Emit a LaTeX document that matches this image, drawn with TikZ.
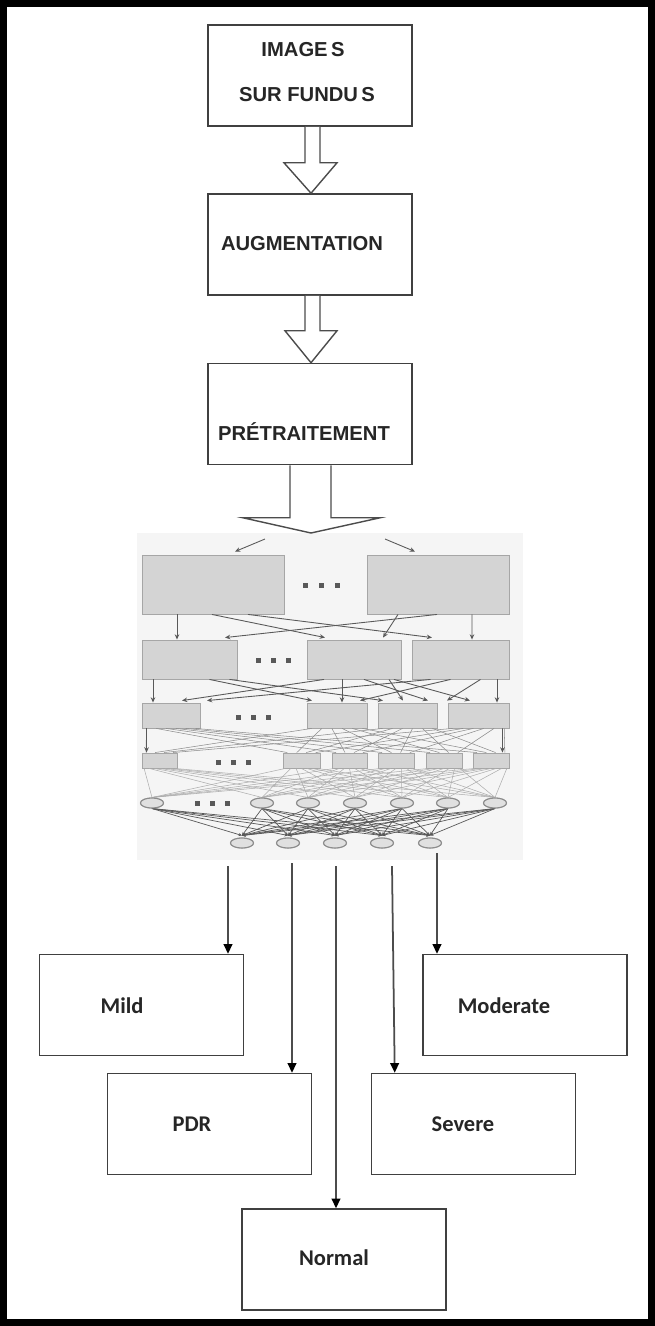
\documentclass[tikz,border=0pt]{standalone}
\usepackage{fontspec}
\setmainfont{Liberation Sans}
\newfontfamily\labelfont{Carlito}
\usetikzlibrary{arrows.meta,calc,shapes.geometric}

\begin{document}
\begin{tikzpicture}[x=0.02cm,y=-0.02cm,
  mainbox/.style={draw=black!75, line width=0.9pt, fill=white, minimum width=4.08cm, minimum height=2.02cm, inner sep=0pt},
  capstext/.style={font=\fontsize{11.5}{13}\selectfont\bfseries, text=black!85, inner sep=0pt},
  classtext/.style={font=\labelfont\fontsize{12.8}{14}\selectfont\bfseries, text=black!85, inner sep=0pt},
  hollow/.style={draw=black!70, line width=0.8pt, fill=white, line join=miter},
  nbox/.style 2 args={draw=black!35, fill=black!17, line width=0.5pt, minimum width=#1*0.02cm, minimum height=#2*0.02cm, inner sep=0pt},
  neuron/.style={ellipse, draw=black!45, fill=black!12, line width=0.6pt, minimum width=0.46cm, minimum height=0.2cm, inner sep=0pt},
  nnarrow/.style={draw=black!65, line width=0.5pt, -{Stealth[length=3pt,width=2.6pt]}},
  nnline/.style={draw=black!45, line width=0.3pt},
  nnfaint/.style={draw=black!32, line width=0.3pt},
  nndark/.style={draw=black!65, line width=0.4pt, -{Stealth[length=2pt,width=1.8pt]}},
  outarrow/.style={draw=black!70, line width=1pt, -{Triangle[length=5.5pt,width=5pt,color=black]}},
  dotmark/.style={fill=black!65}
]
\useasboundingbox (0,0) rectangle (655,1326);
\fill[white] (0,0) rectangle (655,1326);

% ---------- processing chain ----------
\node[mainbox] (img) at (310,75.5) {};
\node[capstext] (imgA) at (303,50) {IMAGE\,S};
\node[capstext] (imgB) at (307,95) {SUR FUNDU\,S};

\node[mainbox] (aug) at (310,244.5) {};
\node[capstext] (augt) at (302,244) {AUGMENTATION};

\node[mainbox] (pre) at (310,414) {};
\node[capstext] (pret) at (304,432) {PRÉTRAITEMENT};

% hollow block arrows
\draw[hollow] ($(img.south)+(-5,0)$) -- ($(img.south)+(-5,36)$) -- ($(img.south)+(-26,36)$)
  -- ($(aug.north)+(1,0)$) -- ($(img.south)+(27,36)$) -- ($(img.south)+(10,36)$) -- ($(img.south)+(10,0)$);
\draw[hollow] ($(aug.south)+(-5,0)$) -- ($(aug.south)+(-5,35)$) -- ($(aug.south)+(-25,35)$)
  -- ($(pre.north)+(1,0)$) -- ($(aug.south)+(27,35)$) -- ($(aug.south)+(10,35)$) -- ($(aug.south)+(10,0)$);

% ---------- network panel ----------
\fill[black!4] (137,533) rectangle (523,860);

\coordinate (split) at (311,533);
\draw[hollow] ($(pre.south)+(-20,0)$) -- ($(pre.south)+(-20,52.5)$) -- ($(pre.south)+(-67,52.5)$)
  -- (split) -- ($(pre.south)+(70,52.5)$) -- ($(pre.south)+(21,52.5)$) -- ($(pre.south)+(21,0)$);

% layer 1
\node[nbox={142}{59}] (L1a) at (213,584.5) {};
\node[nbox={142}{59}] (L1b) at (438,584.5) {};
\coordinate (d1) at (321,585);
% layer 2
\node[nbox={95}{39}] (L2a) at (189.5,659.5) {};
\node[nbox={94}{39}] (L2b) at (354,659.5) {};
\node[nbox={97}{39}] (L2c) at (460.5,659.5) {};
\coordinate (d2) at (273,660);
% layer 3
\node[nbox={58}{25}] (L3a) at (171,715.5) {};
\node[nbox={60}{25}] (L3b) at (337,715.5) {};
\node[nbox={59}{25}] (L3c) at (407.5,715.5) {};
\node[nbox={61}{25}] (L3d) at (478.5,715.5) {};
\coordinate (d3) at (253,717);
% layer 4
\node[nbox={35}{15}] (L4a) at (159.5,760.5) {};
\node[nbox={37}{15}] (L4b) at (301.5,760.5) {};
\node[nbox={35}{15}] (L4c) at (349.5,760.5) {};
\node[nbox={36}{15}] (L4d) at (396,760.5) {};
\node[nbox={36}{15}] (L4e) at (444,760.5) {};
\node[nbox={36}{15}] (L4f) at (491,760.5) {};
\coordinate (d4) at (233,762);
% layer 5
\foreach \n/\x in {a/152,b/262,c/308,d/355,e/402,f/448,g/495}
  \node[neuron] (L5\n) at (\x,803) {};
\coordinate (d5) at (212,803);
% layer 6
\foreach \n/\x in {a/242,b/288,c/335,d/382,e/430}
  \node[neuron] (L6\n) at (\x,843) {};

% ellipsis marks
\foreach \c in {d2,d3,d4,d5}
  \foreach \d in {-15,0,15}
    \fill[dotmark] ($(\c)+(\d-2,-2)$) rectangle ++(4.5,4.5);
\foreach \d in {-16,0,16}
  \fill[dotmark] ($(d1)+(\d-2.5,-2.5)$) rectangle ++(5,5);

% split into the first layer
\coordinate (s1) at (265,539);
\coordinate (s2) at (385,539);
\draw[nnarrow] (s1) -- ($(L1a.north)+(22,-3)$);
\draw[nnarrow] (s2) -- ($(L1b.north)+(-23,-3)$);

% layer 1 -> layer 2
\draw[nnarrow] ($(L1a.south)+(-36,0)$) -- ($(L2a.north)+(-12.5,0)$);
\draw[nnarrow] ($(L1b.south)+(34,0)$) -- ($(L2c.north)+(11.5,0)$);
\draw[nnarrow] ($(L1a.south)+(-1,0)$) -- ($(L2b.north)+(-29,-2)$);
\draw[nnarrow] ($(L1a.south)+(35,0)$) -- ($(L2c.north)+(-28.5,-2)$);
\draw[nnarrow] ($(L1b.south)+(-1,0)$) -- ($(L2a.north)+(35.5,-2)$);
\draw[nnarrow] ($(L1b.south)+(-40,0)$) -- ($(L2b.north)+(29,-2)$);

% layer 2 -> layer 3
\draw[nnarrow] ($(L2a.south)+(-36.5,0)$) -- ($(L3a.north)+(-18,0)$);
\draw[nnarrow] ($(L2b.south)+(-12,0)$) -- ($(L3b.north)+(5,0)$);
\draw[nnarrow] ($(L2c.south)+(36.5,0)$) -- ($(L3d.north)+(18.5,0)$);
\draw[nnarrow] ($(L2b.south)+(-30,0)$) -- ($(L3a.north)+(11,-2)$);
\draw[nnarrow] ($(L2c.south)+(-30,0)$) -- ($(L3a.north)+(36,-2)$);
\draw[nnarrow] ($(L2a.south)+(20,0)$) -- ($(L3b.north)+(-25,-2)$);
\draw[nnarrow] ($(L2c.south)+(-10,0)$) -- ($(L3b.north)+(23,-2)$);
\draw[nnarrow] ($(L2a.south)+(40,0)$) -- ($(L3c.north)+(-24.5,-2)$);
\draw[nnarrow] ($(L2b.south)+(10,0)$) -- ($(L3c.north)+(20.5,-2)$);
\draw[nnarrow] ($(L2b.south)+(35,0)$) -- ($(L3c.north)+(-4.5,-2)$);
\draw[nnarrow] ($(L2c.south)+(20,0)$) -- ($(L3d.north)+(-31.5,-2)$);
\draw[nnarrow] ($(L2b.south)+(40,0)$) -- ($(L3d.north)+(-8.5,-2)$);

% layer 3 -> layer 4 (dense)
\foreach \s [count=\i] in {L3a,L3b,L3c,L3d}
  \foreach \d [count=\j] in {L4a,L4b,L4c,L4d,L4e,L4f}{
    \pgfmathsetmacro\ta{(\j-0.5)/6}
    \pgfmathsetmacro\tb{(\i-0.5)/4}
    \draw[nnline] ($(\s.south west)!\ta!(\s.south east)$) -- ($(\d.north west)!\tb!(\d.north east)$);
  }
\draw[nnarrow] ($(L3a.south west)+(5,0)$) -- ($(L4a.north west)+(5,0)$);
\draw[nnarrow] ($(L3d.south east)+(-7,0)$) -- ($(L4f.north east)+(-7,0)$);

% layer 4 -> layer 5 (fully connected)
\foreach \s in {L4a,L4b,L4c,L4d,L4e,L4f}
  \foreach \d [count=\j] in {L5a,L5b,L5c,L5d,L5e,L5f,L5g}{
    \pgfmathsetmacro\ta{(\j-0.5)/7}
    \draw[nnfaint] ($(\s.south west)!\ta!(\s.south east)$) -- (\d.north);
  }

% layer 5 -> layer 6 (fully connected)
\foreach \s in {L5a,L5b,L5c,L5d,L5e,L5f,L5g}
  \foreach \d in {L6a,L6b,L6c,L6d,L6e}
    \draw[nndark] (\s.south) -- ($(\d.north)+(0,-2)$);

% neurons redrawn above the wiring
\foreach \n in {a,b,c,d,e,f,g}
  \node[neuron] at (L5\n) {};
\foreach \n in {a,b,c,d,e}
  \node[neuron] at (L6\n) {};

% ---------- classes ----------
\node[mainbox] (mild) at (141.5,1005) {};
\node[classtext] (mildt) at (122,1006) {Mild};
\node[mainbox] (mod) at (525,1005) {};
\node[classtext] (modt) at (504,1006) {Moderate};
\node[mainbox] (pdr) at (209.5,1124) {};
\node[classtext] (pdrt) at (192,1124) {PDR};
\node[mainbox] (sev) at (473.5,1124) {};
\node[classtext] (sevt) at (463,1124) {Severe};
\node[mainbox] (norm) at (344,1259.5) {};
\node[classtext] (normt) at (334,1258) {Normal};

\coordinate (o1) at (228,866);
\coordinate (o2) at (292,863);
\coordinate (o3) at (336,866);
\coordinate (o4) at (392,866);
\coordinate (o5) at (437,853);
\draw[outarrow] (o1) -- (o1 |- mild.north);
\draw[outarrow] (o2) -- (o2 |- pdr.north);
\draw[outarrow] (o3) -- (o3 |- norm.north);
\draw[outarrow] (o4) -- ($(sev.north west)+(24,0)$);
\draw[outarrow] (o5) -- (o5 |- mod.north);

% ---------- frame ----------
\draw[line width=3.97pt] (3.5,3.5) rectangle (651.5,1322.5);
\end{tikzpicture}
\end{document}
